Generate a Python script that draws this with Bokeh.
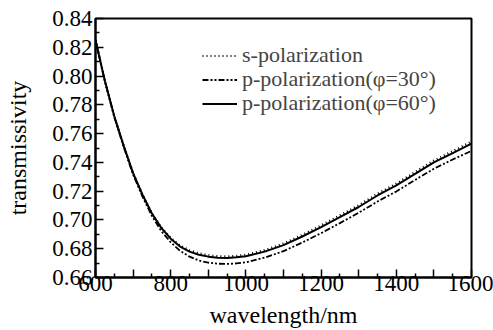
from bokeh.plotting import figure
from bokeh.models import Range1d, FixedTicker, Legend, LegendItem
from bokeh.embed import file_html
from bokeh.resources import INLINE

wavelength = [600, 625, 650, 675, 700, 725, 750, 775, 800, 825, 850, 875, 900, 925, 950, 975,
              1000, 1050, 1100, 1150, 1200, 1250, 1300, 1350, 1400, 1450, 1500, 1550, 1600]
s_pol = [0.825, 0.7965, 0.772, 0.7515, 0.7325, 0.7175, 0.7047, 0.6948, 0.6875, 0.6822, 0.6789,
         0.6768, 0.6755, 0.6748, 0.6746, 0.6750, 0.6758, 0.6790, 0.6836, 0.6896, 0.6962, 0.7032,
         0.7102, 0.7182, 0.7253, 0.7333, 0.7413, 0.7478, 0.7545]
p_pol_30 = [0.825, 0.7963, 0.7716, 0.7508, 0.7315, 0.7162, 0.7028, 0.6923, 0.6845, 0.6785, 0.6745,
            0.6718, 0.6703, 0.6696, 0.6694, 0.6698, 0.6706, 0.6738, 0.6783, 0.6843, 0.6908, 0.6978,
            0.7050, 0.7128, 0.7198, 0.7278, 0.7356, 0.7420, 0.7480]
p_pol_60 = [0.825, 0.7965, 0.772, 0.7515, 0.7325, 0.7175, 0.7045, 0.6945, 0.6870, 0.6815, 0.6780,
            0.6758, 0.6745, 0.6738, 0.6736, 0.6740, 0.6748, 0.6780, 0.6825, 0.6885, 0.6950, 0.7020,
            0.7090, 0.7170, 0.7240, 0.7320, 0.7400, 0.7465, 0.7530]

x_ticks = [600, 700, 800, 900, 1000, 1100, 1200, 1300, 1400, 1500, 1600]
x_tick_labels = ["600", "", "800", "", "1000", "", "1200", "", "1400", "", "1600"]
x_minor = [650, 750, 850, 950, 1050, 1150, 1250, 1350, 1450, 1550]
y_ticks = [0.66, 0.68, 0.70, 0.72, 0.74, 0.76, 0.78, 0.80, 0.82, 0.84]
y_tick_labels = ["0.66", "0.68", "0.70", "0.72", "0.74", "0.76", "0.78", "0.80", "0.82", "0.84"]
y_minor = [0.67, 0.69, 0.71, 0.73, 0.75, 0.77, 0.79, 0.81, 0.83]
labels = ["s-polarization", "p-polarization(\u03c6=30\u00b0)", "p-polarization(\u03c6=60\u00b0)"]

FONT = "Liberation Serif"

p = figure(width=493, height=330, output_backend="svg", toolbar_location=None,
           x_range=Range1d(600, 1600), y_range=Range1d(0.66, 0.84),
           min_border_left=95, min_border_right=22, min_border_top=18, min_border_bottom=51)
p.grid.visible = False
p.background_fill_color = "white"
p.border_fill_color = "white"
p.outline_line_color = "black"
p.outline_line_width = 2

r_s = p.line(wavelength, s_pol, line_color="black", line_width=2.2, line_dash="1 3")
r_30 = p.line(wavelength, p_pol_30, line_color="black", line_width=1.8, line_dash="6 2 2 2 2 2")
r_60 = p.line(wavelength, p_pol_60, line_color="black", line_width=2)

p.xaxis.ticker = FixedTicker(ticks=x_ticks, minor_ticks=x_minor)
p.xaxis.major_label_overrides = {t: l for t, l in zip(x_ticks, x_tick_labels)}
p.yaxis.ticker = FixedTicker(ticks=y_ticks, minor_ticks=y_minor)
p.yaxis.major_label_overrides = {t: l for t, l in zip(y_ticks, y_tick_labels)}

for ax in (p.xaxis, p.yaxis):
    ax.axis_line_width = 2
    ax.axis_line_color = "black"
    ax.major_tick_in = 8
    ax.major_tick_out = 0
    ax.minor_tick_in = 4
    ax.minor_tick_out = 0
    ax.major_tick_line_width = 1.5
    ax.minor_tick_line_width = 1.5
    ax.major_label_text_font = FONT
    ax.major_label_text_font_size = "23px"
    ax.major_label_text_color = "black"
    ax.axis_label_text_font = FONT
    ax.axis_label_text_font_size = "24px"
    ax.axis_label_text_font_style = "normal"
    ax.axis_label_text_color = "black"

p.xaxis.axis_label = "wavelength/nm"
p.yaxis.axis_label = "transmissivity"
p.xaxis.major_label_standoff = -2
p.xaxis.axis_label_standoff = 8
p.yaxis.major_label_standoff = 3
p.yaxis.axis_label_standoff = 18

# one single-item legend per row, so that the row pitch can be set exactly
renderers = [r_s, r_30, r_60]
legend_offsets = [209, 185, 161]
for lab, rend, off in zip(labels, renderers, legend_offsets):
    lg = Legend(items=[LegendItem(label=lab, renderers=[rend])],
                location=(107, off), padding=0, margin=0, spacing=0,
                glyph_width=35, glyph_height=21, label_height=21, label_standoff=5,
                label_text_font=FONT, label_text_font_size="22px",
                border_line_color=None, background_fill_alpha=0)
    p.add_layout(lg)

open("out.html", "w").write(file_html(p, INLINE))
